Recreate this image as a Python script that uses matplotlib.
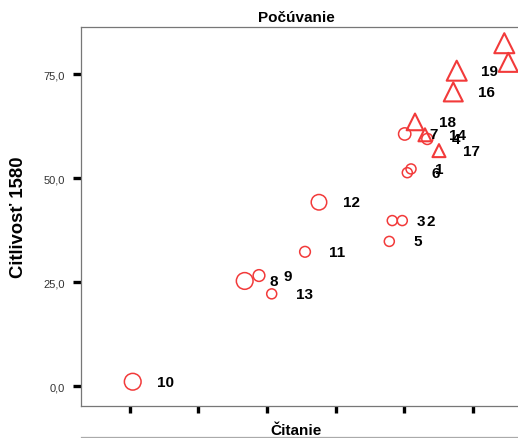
import numpy as np
import matplotlib.pyplot as plt
from matplotlib.lines import Line2D

# data odcitane z grafu
cislo = [1, 2, 3, 4, 5, 6, 7, 8, 9, 10, 11, 12, 13, 14, 15, 16, 17, 18, 19, 20]
citanie = [5.095, 4.968, 4.822, 5.332, 4.779, 5.041, 5.003, 2.674, 2.882, 1.044,
           3.552, 3.755, 3.067, 5.298, 6.511, 5.710, 5.502, 5.153, 5.760, 6.453]
citlivost = [52.2, 39.8, 39.8, 59.4, 34.8, 51.3, 60.6, 25.3, 26.6, 1.1,
             32.3, 44.2, 22.2, 60.4, 77.8, 70.7, 56.6, 63.5, 75.8, 82.4]
# tretia premenna (velkost bodu)
velkost = [10, 10, 10, 11, 10, 10, 12.3, 16.7, 11.7, 16.7,
           10.7, 15.5, 10, 13, 19, 19, 13, 16.7, 20, 20]
skupina = ['o'] * 13 + ['^'] * 7
# popisy bodov 15 a 20 su v povodnom grafe mimo obrazku
bez_popisu = [15, 20]

W, H = 518, 439
fig = plt.figure(figsize=(W / 100, H / 100), dpi=100)
plt.rcParams['font.family'] = ['Liberation Sans', 'DejaVu Sans']

ax = fig.add_axes([81 / W, (H - 406.7) / H, (530 - 81) / W, (406.7 - 28) / H])
cerv = '#f23a3a'

x = np.array(citanie)
y = np.array(citlivost)
s = (np.array(velkost) * 0.72) ** 2
for m, lw in [('o', 1.1), ('^', 1.5)]:
    idx = [i for i, g in enumerate(skupina) if g == m]
    ax.scatter(x[idx], y[idx], s=s[idx], marker=m, facecolors='none',
               edgecolors=cerv, linewidths=lw, zorder=3)

for i, c in enumerate(cislo):
    if c in bez_popisu:
        continue
    ax.annotate(str(c), (x[i], y[i]), xytext=(17.5, 0), textcoords='offset points',
                ha='left', va='center', fontsize=11, fontweight='bold',
                color='black')

ax.set_xlim(0.291, 6.827)
ax.set_ylim(-4.66, 86.29)
ax.set_xticks([1, 2, 3, 4, 5, 6])
ax.set_xticklabels([])
ax.set_yticks([0, 25, 50, 75])
ax.set_yticklabels(['0,0', '25,0', '50,0', '75,0'], fontsize=8, color='#333333')
ax.tick_params(axis='y', direction='out', length=5.5, width=2.4, color='black', pad=6)
ax.tick_params(axis='x', direction='out', length=4.8, width=2.4, color='black', pad=2)
for sp in ['left', 'top', 'bottom', 'right']:
    ax.spines[sp].set_color('#777777')
    ax.spines[sp].set_linewidth(0.9)

xc = (296 - 81) / (530 - 81)
ax.set_title('Počúvanie', x=xc, fontsize=11, fontweight='bold', pad=4)
fig.text(296 / W, 1 - 431 / H, 'Čitanie', ha='center', va='center',
         fontsize=11, fontweight='bold')
fig.text(19 / W, 1 - 217 / H, 'Citlivosť 1580', ha='center', va='center',
         rotation=90, fontsize=13.3, fontweight='bold')
# linka pod popisom osi x
fig.add_artist(Line2D([81 / W, 1.0], [1 - 438 / H, 1 - 438 / H],
                      color='#aaaaaa', linewidth=0.9))

fig.savefig('out.png', dpi=100)
